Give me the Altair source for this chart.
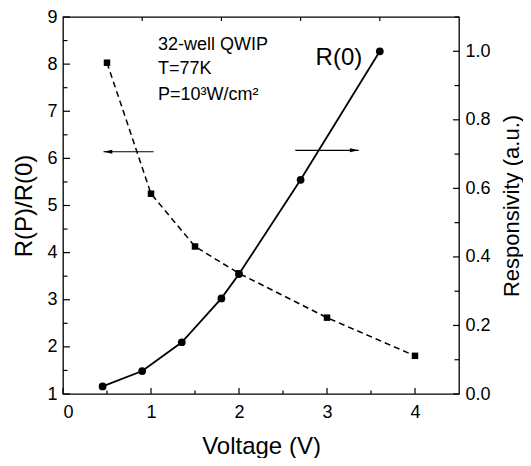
import altair as alt
import pandas as pd

# ---- data ----
v_sq = [0.5, 1.0, 1.5, 2.0, 3.0, 4.0]
ratio = [8.03, 5.25, 4.13, 3.56, 2.62, 1.81]

v_circ = [0.45, 0.9, 1.35, 1.8, 2.0, 2.7, 3.6]
resp = [0.022, 0.067, 0.151, 0.279, 0.350, 0.625, 1.0]

x_major = [0, 1, 2, 3, 4]
x_minor = [0.5, 1.5, 2.5, 3.5]
top_ticks = [0.9, 1.8, 2.7, 3.6]
yl_major = [1, 2, 3, 4, 5, 6, 7, 8, 9]
yl_minor = [1.5, 2.5, 3.5, 4.5, 5.5, 6.5, 7.5, 8.5]
yr_major = [0.0, 0.2, 0.4, 0.6, 0.8, 1.0]
yr_minor = [0.1, 0.3, 0.5, 0.7, 0.9, 1.1]

note_lines = ["32-well QWIP", "T=77K", "P=10\u00b3W/cm\u00b2"]
note_x = [1.08, 1.08, 1.08]
note_y = [8.29, 7.79, 7.24]

label_text = ["R(0)"]
label_x = [2.87]
label_y = [7.98]

# arrows: tail, tip, y on left scale
arrow_tail = [1.03, 2.64]
arrow_tip = [0.46, 3.36]
arrow_y = [6.14, 6.17]
arrow_dir = ["left", "right"]

W, H = 396, 377
FONT = "Liberation Sans"

xs = alt.Scale(domain=[0, 4.5], nice=False, zero=False)
yls = alt.Scale(domain=[1, 9], nice=False, zero=False)
yrs = alt.Scale(domain=[0, 1.1], nice=False, zero=False)

df_sq = pd.DataFrame({"V": v_sq, "r": ratio})
df_c = pd.DataFrame({"V": v_circ, "s": resp})
df_notes = pd.DataFrame({"t": note_lines, "x": note_x, "y": note_y})
df_lab = pd.DataFrame({"t": label_text, "x": label_x, "y": label_y})
df_arr = pd.DataFrame({"tail": arrow_tail, "tip": arrow_tip, "y": arrow_y, "d": arrow_dir})

x_axis = alt.Axis(values=x_major, format="d", title="Voltage (V)", ticks=False, domain=False,
                  grid=False, labelPadding=9, titlePadding=13)
yl_axis = alt.Axis(values=yl_major, format="d", title="R(P)/R(0)", ticks=False, domain=False,
                   grid=False, labelPadding=6, titlePadding=10)
yr_axis = alt.Axis(values=yr_major, format=".1f", title="Responsivity (a.u.)", orient="right",
                   ticks=False, domain=False, grid=False, labelPadding=6, titlePadding=11,
                   titleAngle=270, titleBaseline="top", titleFontSize=22)


def X(f):
    return alt.X(f, scale=xs, axis=x_axis)


def YL(f):
    return alt.Y(f, scale=yls, axis=yl_axis)


def YR(f):
    return alt.Y(f, scale=yrs, axis=yr_axis)


# ---------- left group ----------
sq_line = alt.Chart(df_sq).mark_line(color="black", strokeWidth=1.5, strokeDash=[6, 4]).encode(
    x=X("V:Q"), y=YL("r:Q"))
sq_pts = alt.Chart(df_sq).mark_point(shape="square", filled=True, color="black", size=42, opacity=1).encode(
    x=X("V:Q"), y=YL("r:Q"))


def vticks(vals, y0, y1):
    return alt.Chart(pd.DataFrame({"v": vals})).mark_rule(color="black", strokeWidth=1.2).encode(
        x=X("v:Q"), y=alt.value(y0), y2=alt.value(y1))


def hticks_left(vals, length):
    return alt.Chart(pd.DataFrame({"v": vals})).mark_rule(color="black", strokeWidth=1.2).encode(
        y=YL("v:Q"), x=alt.value(0), x2=alt.value(length))


bot_major = vticks(x_major, H, H - 6)
bot_minor = vticks(x_minor, H, H - 3.5)
top_t = vticks(top_ticks, 0, 4)
left_major = hticks_left(yl_major, 7)
left_minor = hticks_left(yl_minor, 4.5)

notes = alt.Chart(df_notes).mark_text(align="left", baseline="alphabetic", font=FONT,
                                       fontSize=18, color="black").encode(
    x=X("x:Q"), y=YL("y:Q"), text="t:N")
lab = alt.Chart(df_lab).mark_text(align="left", baseline="alphabetic", font=FONT,
                                   fontSize=24, color="black").encode(
    x=X("x:Q"), y=YL("y:Q"), text="t:N")

arr_line = alt.Chart(df_arr).mark_rule(color="black", strokeWidth=1.1).encode(
    x=X("tail:Q"), x2="tip:Q", y=YL("y:Q"))
head_left = alt.Chart(df_arr).transform_filter(alt.datum.d == "left").mark_point(
    shape="M0,0L2.2,-0.5L2.2,0.5Z", filled=True, color="black", size=64, opacity=1).encode(
    x=X("tip:Q"), y=YL("y:Q"))
head_right = alt.Chart(df_arr).transform_filter(alt.datum.d == "right").mark_point(
    shape="M0,0L-2.2,-0.5L-2.2,0.5Z", filled=True, color="black", size=64, opacity=1).encode(
    x=X("tip:Q"), y=YL("y:Q"))

left = alt.layer(sq_line, sq_pts, bot_major, bot_minor, top_t, left_major, left_minor,
                 notes, lab, arr_line, head_left, head_right)

# ---------- right group ----------
c_line = alt.Chart(df_c).mark_line(color="black", strokeWidth=1.8).encode(
    x=X("V:Q"), y=YR("s:Q"))
c_pts = alt.Chart(df_c).mark_point(shape="circle", filled=True, color="black", size=60, opacity=1).encode(
    x=X("V:Q"), y=YR("s:Q"))


def hticks_right(vals, length):
    return alt.Chart(pd.DataFrame({"v": vals})).mark_rule(color="black", strokeWidth=1.2).encode(
        y=YR("v:Q"), x=alt.value(W), x2=alt.value(W - length))


right_major = hticks_right(yr_major, 6)
right_minor = hticks_right(yr_minor, 4.5)

right = alt.layer(c_line, c_pts, right_major, right_minor)

chart = alt.layer(left, right).resolve_scale(y="independent").properties(
    width=W, height=H,
    autosize=alt.AutoSizeParams(type="none"),
    padding={"left": 55, "top": 9, "right": 64, "bottom": 64},
).configure_view(
    stroke="black", strokeWidth=1.3
).configure_axis(
    labelFont=FONT, titleFont=FONT, labelFontSize=18, titleFontSize=24,
    titleFontWeight="normal", labelColor="black", titleColor="black",
)

chart.save("out.html", embed_options={"renderer": "svg", "actions": False})
